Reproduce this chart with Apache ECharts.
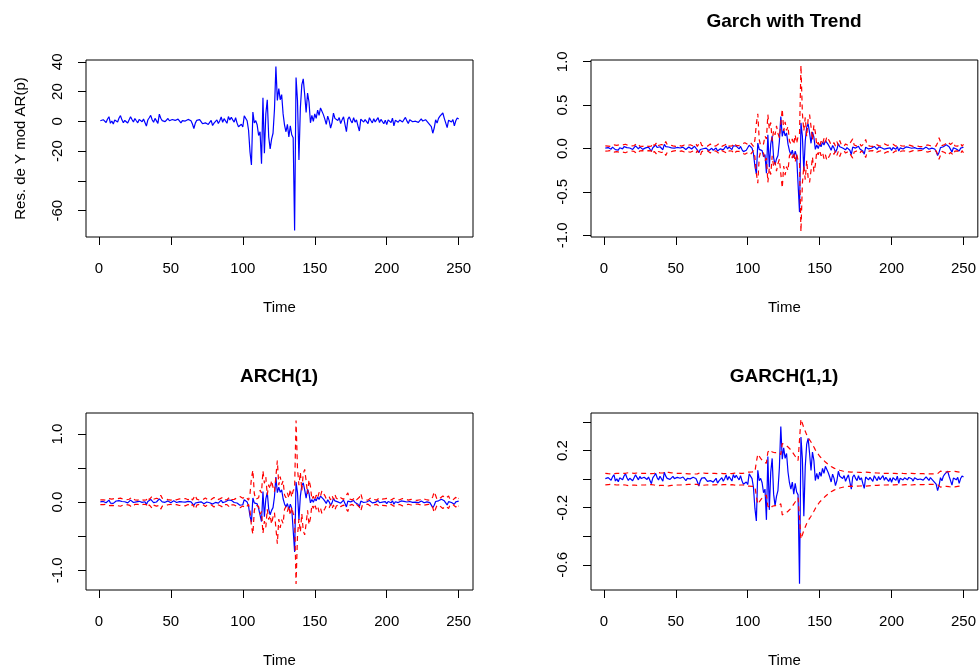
<!DOCTYPE html>
<html>
<head>
<meta charset="utf-8">
<title>Residuals and volatility bands</title>
<script src="https://cdn.jsdelivr.net/npm/echarts@6.0.0/dist/echarts.min.js"></script>
<style>
  html, body { margin: 0; padding: 0; background: #fff; }
  #chart { width: 979px; height: 669px; }
</style>
</head>
<body>
<div id="chart"></div>
<script>
// residuals of the AR(p) model, t = 1..250
const resid = [
  0.4, -0.6, 1.1, 0.3, -0.8, 1.6, 3.1, -1.3, 0.2, -1.8,
  0.9, 1.7, -0.4, 2.2, 3.8, 1.0, -0.9, 0.6, 1.4, -1.1,
  0.2, 3.0, 1.2, -0.5, 1.9, 0.4, -1.0, 1.3, 0.7, -0.3,
  1.5, 0.6, -3.2, 0.9, 2.4, 4.0, 1.1, -0.6, 2.0, 0.3,
  -1.4, 4.8, 2.1, 0.5, 1.7, -0.2, 0.8, 1.9, 0.4, -0.7,
  1.2, 2.0, 0.6, -0.4, 1.5, 0.9, -1.1, 0.5, 1.8, 0.2,
  -0.6, 1.3, 2.6, 0.4, -1.8, -4.8, -1.2, 0.7, -0.3, 1.1,
  0.5, -1.6, -2.4, -1.0, 0.3, -2.1, -0.8, 0.6, -2.8, -1.2,
  -0.4, 1.0, -1.5, 0.4, 2.9, -0.6, 1.8, 0.7, -1.3, 3.2,
  0.9, 2.7, 1.0, -0.5, 2.4, -1.2, -3.6, -4.5, -2.0, -3.8,
  3.7, 2.5, 0.4, -6.0, -20.5, -29.3, 6.2, -1.0, 0.5, -2.5,
  -9.5, -7.0, -28.5, 15.8, -21.5, 5.0, 14.5, -10.5, -18.5, -12.0,
  -8.0, 8.0, 36.8, 14.0, 22.0, 14.5, 18.0, 5.0, -2.5, -7.0,
  -2.0, -10.5, -3.0, -9.0, -11.0, -73.3, 29.5, 14.0, -26.0, 9.0,
  24.5, 28.5, 18.0, 6.0, 19.0, 13.0, -1.0, 4.0, 0.0, 5.0,
  2.0, 7.5, 4.0, 9.0, 8.0, 4.5, 1.5, -2.0, 3.5, 0.5,
  -4.5, -1.0, 5.5, 2.0, 3.0, 0.5, 2.5, -1.5, 1.0, 3.0,
  -2.0, -7.0, 1.5, 3.0, 0.5, -1.0, 2.5, -0.5, 1.0, -3.0,
  -6.5, 1.5, 2.0, -0.5, 1.2, 0.3, -1.5, 2.4, 0.6, -1.0,
  1.8, -0.4, 0.9, 2.5, -0.8, 1.3, 0.2, -1.6, 0.8, -2.2,
  1.0, 0.4, -0.9, 2.1, -3.0, 0.7, 1.5, -0.6, 0.9, 1.8,
  -0.5, 1.2, 2.6, 0.3, -1.4, 1.0, 2.2, -0.3, 0.8, 0.1,
  1.3, -0.7, 0.5, 1.6, 0.2, -0.9, 1.1, 0.4, -1.2, -0.6,
  -3.5, -8.0, -4.5, 1.0, -1.2, 2.0, 3.5, 4.2, 5.6, 2.0,
  -1.0, -4.2, 0.8, 1.5, -0.5, 1.2, -3.0, 0.4, 2.2, 1.5
];

// half width of the red bands (drawn at +band and -band)
const bandTrend = [
  0.030, 0.025, 0.028, 0.034, 0.024, 0.030, 0.041, 0.060, 0.037, 0.023,
  0.043, 0.032, 0.042, 0.025, 0.049, 0.069, 0.033, 0.032, 0.028, 0.038,
  0.034, 0.023, 0.059, 0.036, 0.027, 0.045, 0.025, 0.033, 0.037, 0.029,
  0.024, 0.040, 0.028, 0.062, 0.032, 0.051, 0.072, 0.034, 0.028, 0.046,
  0.024, 0.038, 0.082, 0.047, 0.027, 0.042, 0.023, 0.030, 0.045, 0.025,
  0.029, 0.036, 0.046, 0.028, 0.025, 0.040, 0.032, 0.034, 0.027, 0.043,
  0.023, 0.028, 0.037, 0.054, 0.025, 0.043, 0.082, 0.036, 0.029, 0.024,
  0.034, 0.027, 0.041, 0.051, 0.033, 0.024, 0.047, 0.030, 0.028, 0.056,
  0.036, 0.025, 0.033, 0.040, 0.025, 0.058, 0.028, 0.043, 0.029, 0.037,
  0.062, 0.032, 0.055, 0.033, 0.027, 0.051, 0.036, 0.067, 0.079, 0.046,
  0.069, 0.068, 0.053, 0.025, 0.098, 0.287, 0.400, 0.101, 0.033, 0.027,
  0.053, 0.144, 0.111, 0.390, 0.225, 0.300, 0.085, 0.209, 0.157, 0.261,
  0.176, 0.124, 0.124, 0.455, 0.202, 0.306, 0.209, 0.254, 0.085, 0.053,
  0.111, 0.046, 0.157, 0.059, 0.137, 0.163, 0.960, 0.404, 0.202, 0.358,
  0.137, 0.339, 0.391, 0.254, 0.098, 0.267, 0.189, 0.033, 0.072, 0.020,
  0.085, 0.046, 0.118, 0.072, 0.137, 0.124, 0.079, 0.040, 0.046, 0.066,
  0.027, 0.079, 0.033, 0.092, 0.046, 0.059, 0.027, 0.053, 0.040, 0.033,
  0.059, 0.046, 0.111, 0.040, 0.059, 0.027, 0.033, 0.053, 0.027, 0.033,
  0.059, 0.105, 0.040, 0.046, 0.027, 0.036, 0.024, 0.040, 0.051, 0.028,
  0.033, 0.043, 0.025, 0.032, 0.053, 0.030, 0.037, 0.023, 0.041, 0.030,
  0.049, 0.033, 0.025, 0.032, 0.047, 0.059, 0.029, 0.040, 0.028, 0.032,
  0.043, 0.027, 0.036, 0.054, 0.024, 0.038, 0.033, 0.049, 0.024, 0.030,
  0.021, 0.037, 0.029, 0.027, 0.041, 0.023, 0.032, 0.034, 0.025, 0.036,
  0.028, 0.066, 0.124, 0.079, 0.033, 0.036, 0.046, 0.066, 0.075, 0.093,
  0.046, 0.033, 0.075, 0.030, 0.040, 0.027, 0.036, 0.059, 0.025, 0.049
];

const bandArch = [
  0.035, 0.031, 0.035, 0.043, 0.030, 0.038, 0.051, 0.075, 0.046, 0.028,
  0.054, 0.039, 0.052, 0.031, 0.060, 0.086, 0.041, 0.039, 0.035, 0.047,
  0.043, 0.028, 0.073, 0.044, 0.033, 0.055, 0.031, 0.041, 0.046, 0.036,
  0.030, 0.049, 0.035, 0.076, 0.039, 0.063, 0.089, 0.043, 0.035, 0.057,
  0.030, 0.047, 0.102, 0.059, 0.033, 0.052, 0.028, 0.038, 0.055, 0.031,
  0.036, 0.044, 0.057, 0.035, 0.031, 0.049, 0.039, 0.043, 0.033, 0.054,
  0.028, 0.035, 0.046, 0.067, 0.031, 0.054, 0.102, 0.044, 0.036, 0.030,
  0.043, 0.033, 0.051, 0.063, 0.041, 0.030, 0.059, 0.038, 0.035, 0.070,
  0.044, 0.031, 0.041, 0.049, 0.031, 0.071, 0.035, 0.054, 0.036, 0.046,
  0.076, 0.039, 0.068, 0.041, 0.033, 0.063, 0.044, 0.083, 0.097, 0.057,
  0.086, 0.084, 0.065, 0.031, 0.121, 0.353, 0.470, 0.124, 0.041, 0.033,
  0.065, 0.177, 0.137, 0.460, 0.278, 0.369, 0.105, 0.257, 0.193, 0.321,
  0.217, 0.153, 0.153, 0.610, 0.249, 0.377, 0.257, 0.313, 0.105, 0.065,
  0.137, 0.057, 0.193, 0.073, 0.169, 0.201, 1.200, 0.497, 0.249, 0.441,
  0.169, 0.417, 0.481, 0.313, 0.121, 0.329, 0.233, 0.041, 0.089, 0.025,
  0.105, 0.057, 0.145, 0.089, 0.169, 0.153, 0.097, 0.049, 0.057, 0.081,
  0.033, 0.097, 0.041, 0.113, 0.057, 0.073, 0.033, 0.065, 0.049, 0.041,
  0.073, 0.057, 0.137, 0.049, 0.073, 0.033, 0.041, 0.065, 0.033, 0.041,
  0.073, 0.129, 0.049, 0.057, 0.033, 0.044, 0.030, 0.049, 0.063, 0.035,
  0.041, 0.054, 0.031, 0.039, 0.065, 0.038, 0.046, 0.028, 0.051, 0.038,
  0.060, 0.041, 0.031, 0.039, 0.059, 0.073, 0.036, 0.049, 0.035, 0.039,
  0.054, 0.033, 0.044, 0.067, 0.030, 0.047, 0.041, 0.060, 0.030, 0.038,
  0.027, 0.046, 0.036, 0.033, 0.051, 0.028, 0.039, 0.043, 0.031, 0.044,
  0.035, 0.081, 0.153, 0.097, 0.041, 0.044, 0.057, 0.081, 0.092, 0.115,
  0.057, 0.041, 0.092, 0.038, 0.049, 0.033, 0.044, 0.073, 0.031, 0.060
];

const bandGarch = [
  0.040, 0.039, 0.038, 0.038, 0.037, 0.037, 0.038, 0.042, 0.041, 0.040,
  0.040, 0.039, 0.040, 0.039, 0.041, 0.046, 0.045, 0.043, 0.042, 0.042,
  0.041, 0.040, 0.043, 0.042, 0.041, 0.042, 0.041, 0.040, 0.040, 0.039,
  0.038, 0.039, 0.038, 0.042, 0.041, 0.042, 0.047, 0.046, 0.044, 0.044,
  0.043, 0.042, 0.050, 0.049, 0.047, 0.046, 0.044, 0.043, 0.043, 0.042,
  0.041, 0.040, 0.041, 0.040, 0.039, 0.039, 0.038, 0.038, 0.037, 0.038,
  0.037, 0.036, 0.036, 0.038, 0.037, 0.038, 0.046, 0.045, 0.043, 0.042,
  0.041, 0.040, 0.040, 0.041, 0.040, 0.039, 0.040, 0.039, 0.038, 0.041,
  0.040, 0.039, 0.039, 0.039, 0.038, 0.041, 0.040, 0.040, 0.039, 0.039,
  0.042, 0.041, 0.043, 0.042, 0.041, 0.042, 0.041, 0.044, 0.048, 0.047,
  0.049, 0.050, 0.050, 0.048, 0.052, 0.120, 0.175, 0.160, 0.145, 0.132,
  0.120, 0.118, 0.112, 0.190, 0.190, 0.205, 0.190, 0.190, 0.185, 0.190,
  0.188, 0.180, 0.172, 0.250, 0.245, 0.240, 0.232, 0.225, 0.215, 0.205,
  0.190, 0.175, 0.160, 0.145, 0.130, 0.120, 0.420, 0.390, 0.360, 0.335,
  0.310, 0.290, 0.275, 0.260, 0.240, 0.225, 0.205, 0.190, 0.175, 0.160,
  0.150, 0.140, 0.130, 0.120, 0.110, 0.103, 0.095, 0.088, 0.082, 0.077,
  0.072, 0.068, 0.064, 0.062, 0.059, 0.057, 0.055, 0.053, 0.052, 0.051,
  0.050, 0.049, 0.052, 0.051, 0.050, 0.049, 0.048, 0.048, 0.047, 0.046,
  0.046, 0.049, 0.048, 0.047, 0.046, 0.045, 0.045, 0.044, 0.044, 0.043,
  0.043, 0.042, 0.042, 0.041, 0.042, 0.041, 0.041, 0.040, 0.040, 0.040,
  0.041, 0.040, 0.040, 0.039, 0.040, 0.042, 0.041, 0.040, 0.040, 0.039,
  0.040, 0.039, 0.039, 0.041, 0.040, 0.039, 0.039, 0.040, 0.039, 0.038,
  0.038, 0.038, 0.038, 0.037, 0.038, 0.037, 0.037, 0.037, 0.036, 0.036,
  0.036, 0.038, 0.052, 0.056, 0.054, 0.052, 0.050, 0.050, 0.051, 0.053,
  0.056, 0.054, 0.052, 0.054, 0.052, 0.051, 0.049, 0.048, 0.049, 0.048
];

// residuals are in percent in the first panel, as returns in the others
const residScale = 0.01;

const xTicks = [0, 50, 100, 150, 200, 250];
const yTicks1 = [-60, -40, -20, 0, 20, 40];
const yLabels1 = [-60, -20, 0, 20, 40];
const yTicks2 = [-1, -0.5, 0, 0.5, 1];
const yLabels2 = [-1, -0.5, 0, 0.5, 1];
const yTicks3 = [-1, -0.5, 0, 0.5, 1];
const yLabels3 = [-1, 0, 1];
const yTicks4 = [-0.6, -0.4, -0.2, 0, 0.2, 0.4];
const yLabels4 = [-0.6, -0.2, 0.2];

const FONT = '"Liberation Sans", Arial, sans-serif';

const pairs = (arr, k) => arr.map((v, i) => [i + 1, v * k]);

const chart = echarts.init(document.getElementById('chart'), null, { renderer: 'canvas' });

const grids = [
  { left: 86, top: 60, width: 387, height: 177 },
  { left: 591, top: 60, width: 387, height: 177 },
  { left: 86, top: 413, width: 387, height: 179 },
  { left: 591, top: 413, width: 387, height: 179 }
].map(g => Object.assign(g, { show: true, borderColor: '#000', borderWidth: 1, backgroundColor: 'transparent' }));

function xAxis(i) {
  return {
    type: 'value', gridIndex: i, min: -8.96, max: 259.96,
    axisLine: { show: false, onZero: false },
    axisTick: { show: true, length: 8, customValues: xTicks, lineStyle: { color: '#000', width: 1 } },
    axisLabel: { customValues: xTicks, margin: 24, fontSize: 15, color: '#000', fontFamily: FONT },
    splitLine: { show: false },
    name: 'Time', nameLocation: 'middle', nameGap: 63,
    nameTextStyle: { fontSize: 15, color: '#000', fontFamily: FONT }
  };
}

function yAxis(i, min, max, ticks, labels, fmt, name) {
  return {
    type: 'value', gridIndex: i, min: min, max: max,
    axisLine: { show: false, onZero: false },
    axisTick: { show: true, length: 8, customValues: ticks, lineStyle: { color: '#000', width: 1 } },
    axisLabel: { customValues: labels, rotate: 90, margin: 21, fontSize: 15, color: '#000', fontFamily: FONT, formatter: fmt },
    splitLine: { show: false },
    name: name || '', nameLocation: 'middle', nameGap: 58,
    nameTextStyle: { fontSize: 15, color: '#000', fontFamily: FONT }
  };
}

const one = v => Number(v).toFixed(1);
const int = v => String(Math.round(v));

function blue(i, k) {
  return {
    type: 'line', xAxisIndex: i, yAxisIndex: i, data: pairs(resid, k),
    symbol: 'none', lineStyle: { color: '#0000ff', width: 1.2 }, z: 2
  };
}
function red(i, band, sign) {
  return {
    type: 'line', xAxisIndex: i, yAxisIndex: i, data: pairs(band, sign),
    symbol: 'none', lineStyle: { color: '#ff0000', width: 1.2, type: [5, 4] }, z: 3
  };
}

const titleStyle = { fill: '#000', font: 'bold 19px ' + FONT, textAlign: 'center', textVerticalAlign: 'middle' };

chart.setOption({
  animation: false,
  grid: grids,
  xAxis: [xAxis(0), xAxis(1), xAxis(2), xAxis(3)],
  yAxis: [
    yAxis(0, -77.7, 41.2, yTicks1, yLabels1, int, 'Res. de Y mod AR(p)'),
    yAxis(1, -1.02, 1.02, yTicks2, yLabels2, one),
    yAxis(2, -1.29, 1.31, yTicks3, yLabels3, one),
    yAxis(3, -0.776, 0.463, yTicks4, yLabels4, one)
  ],
  series: [
    blue(0, 1),
    blue(1, residScale), red(1, bandTrend, 1), red(1, bandTrend, -1),
    blue(2, residScale), red(2, bandArch, 1), red(2, bandArch, -1),
    blue(3, residScale), red(3, bandGarch, 1), red(3, bandGarch, -1)
  ],
  graphic: [
    { type: 'text', x: 784, y: 22, style: Object.assign({ text: 'Garch with Trend' }, titleStyle) },
    { type: 'text', x: 279, y: 377, style: Object.assign({ text: 'ARCH(1)' }, titleStyle) },
    { type: 'text', x: 784, y: 377, style: Object.assign({ text: 'GARCH(1,1)' }, titleStyle) }
  ]
});
</script>
</body>
</html>
